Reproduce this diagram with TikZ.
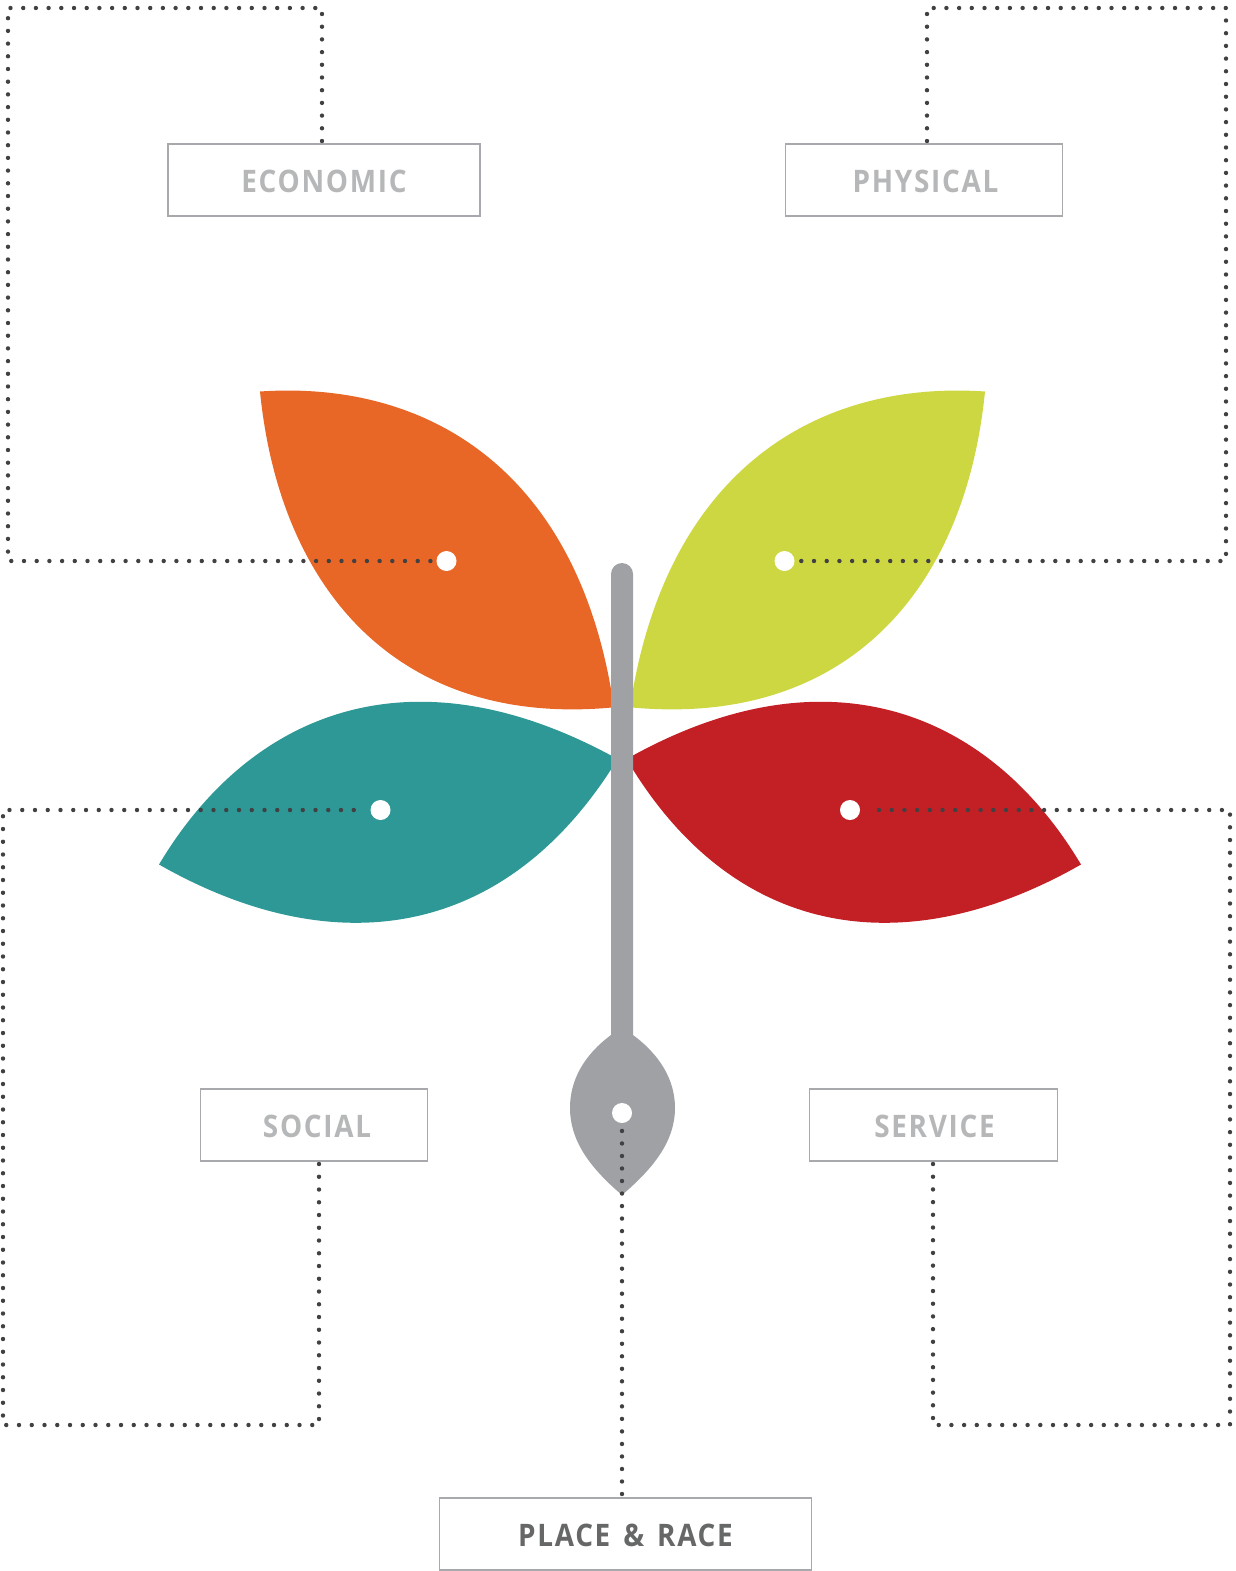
\documentclass[tikz,border=0pt]{standalone}
\usepackage{fontspec}
\setmainfont{Open Sans}
\newfontfamily\lblfont[LetterSpace=5.5,FakeStretch=0.9]{Open Sans}
\definecolor{orangeleaf}{HTML}{E86726}
\definecolor{limeleaf}{HTML}{CDD741}
\definecolor{tealleaf}{HTML}{2D9896}
\definecolor{redleaf}{HTML}{C32026}
\definecolor{stemgrey}{HTML}{A0A1A5}
\definecolor{boxline}{HTML}{A7A9AC}
\definecolor{lbllight}{HTML}{B5B7B9}
\definecolor{lbldark}{HTML}{666767}
\definecolor{dotgrey}{HTML}{414042}
\tikzset{
  lblbox/.style={draw=boxline,line width=1.5pt,fill=white,inner sep=0pt,outer sep=0pt,minimum height=72pt,text height=24pt,text depth=0pt,text=lbllight,font=\fontsize{31}{31}\lblfont\bfseries},
  dotline/.style={draw=dotgrey,line width=4.4pt,line cap=round,dash pattern=on 0pt off 12.7pt},
  hole/.style={circle,fill=white,inner sep=0pt,minimum size=20pt}
}
\begin{document}
\begin{tikzpicture}[x=1pt,y=-1pt]
\useasboundingbox (0,0) rectangle (1236,1571);
% leaves
\fill[orangeleaf] (260,391.5) .. controls (430,380) and (575,472) .. (612,695) -- (612,707.5) .. controls (400,727) and (280,592) .. (260,391.5) -- cycle;
\fill[limeleaf] (985,391.5) .. controls (815,380) and (670,472) .. (632,695) -- (632,707.5) .. controls (845,727) and (965,592) .. (985,391.5) -- cycle;
\fill[tealleaf] (159,864.5) .. controls (250,712) and (410,647) .. (612,756) -- (612,768) .. controls (500,942) and (330,962) .. (159,864.5) -- cycle;
\fill[redleaf] (1081,864.5) .. controls (990,712) and (830,647) .. (632,756) -- (632,768) .. controls (740,942) and (910,962) .. (1081,864.5) -- cycle;
% stem
\fill[stemgrey] (611,574) arc[start angle=180,end angle=360,radius=11] -- (633,1035)
  .. controls (660,1055) and (675,1080) .. (675,1108)
  .. controls (675,1140) and (655,1167) .. (622,1195)
  .. controls (589,1167) and (570,1140) .. (570,1108)
  .. controls (570,1080) and (584,1055) .. (611,1035) -- cycle;
% boxes
\node[lblbox,minimum width=312pt] (econ) at (324,180) {ECONOMIC};
\node[lblbox,minimum width=277pt] (phys) at (924,180) {\hspace*{3pt}PHYSICAL};
\node[lblbox,minimum width=227pt] (soc) at (314,1125) {\hspace*{6pt}SOCIAL};
\node[lblbox,minimum width=248pt] (serv) at (933.5,1125) {\hspace*{2pt}SERVICE};
\node[lblbox,minimum width=372pt,text=lbldark] (place) at (625.5,1534) {PLACE\hspace{4pt} \&\hspace{4pt} RACE};
% holes
\node[hole] (deco) at (446.5,561) {};
\node[hole] (dphy) at (784.5,561) {};
\node[hole] (dsoc) at (380.5,810) {};
\node[hole] (dser) at (850,810) {};
\node[hole] (dpla) at (622,1113) {};
% connector corners
\coordinate (e1) at (322,8); \coordinate (e2) at (8,8); \coordinate (e3) at (8,561);
\coordinate (p1) at (927,8); \coordinate (p2) at (1226,8); \coordinate (p3) at (1226,561);
\coordinate (s1) at (319,1425); \coordinate (s2) at (3,1425); \coordinate (s3) at (3,810);
\coordinate (v1) at (933,1425); \coordinate (v2) at (1230,1425); \coordinate (v3) at (1230,810);
% connectors
\draw[dotline,shorten >=16pt] ([yshift=3pt]e1|-econ.north) -- (e1) -- (e2) -- (e3) -- (deco.center);
\draw[dotline,shorten >=16pt] ([yshift=3pt]p1|-phys.north) -- (p1) -- (p2) -- (p3) -- (dphy.center);
\draw[dotline,dash pattern=on 0pt off 12.75pt,shorten >=20pt] ([yshift=-3pt]s1|-soc.south) -- (s1) -- (s2) -- (s3) -- (dsoc.center);
\draw[dotline,shorten >=20pt] ([yshift=-3pt]v1|-serv.south) -- (v1) -- (v2) -- (v3) -- (dser.center);
\draw[dotline,dash pattern=on 0pt off 12.52pt] ([yshift=4pt]place.north-|dpla) -- ([yshift=-17pt]dpla.center);
\end{tikzpicture}
\end{document}
